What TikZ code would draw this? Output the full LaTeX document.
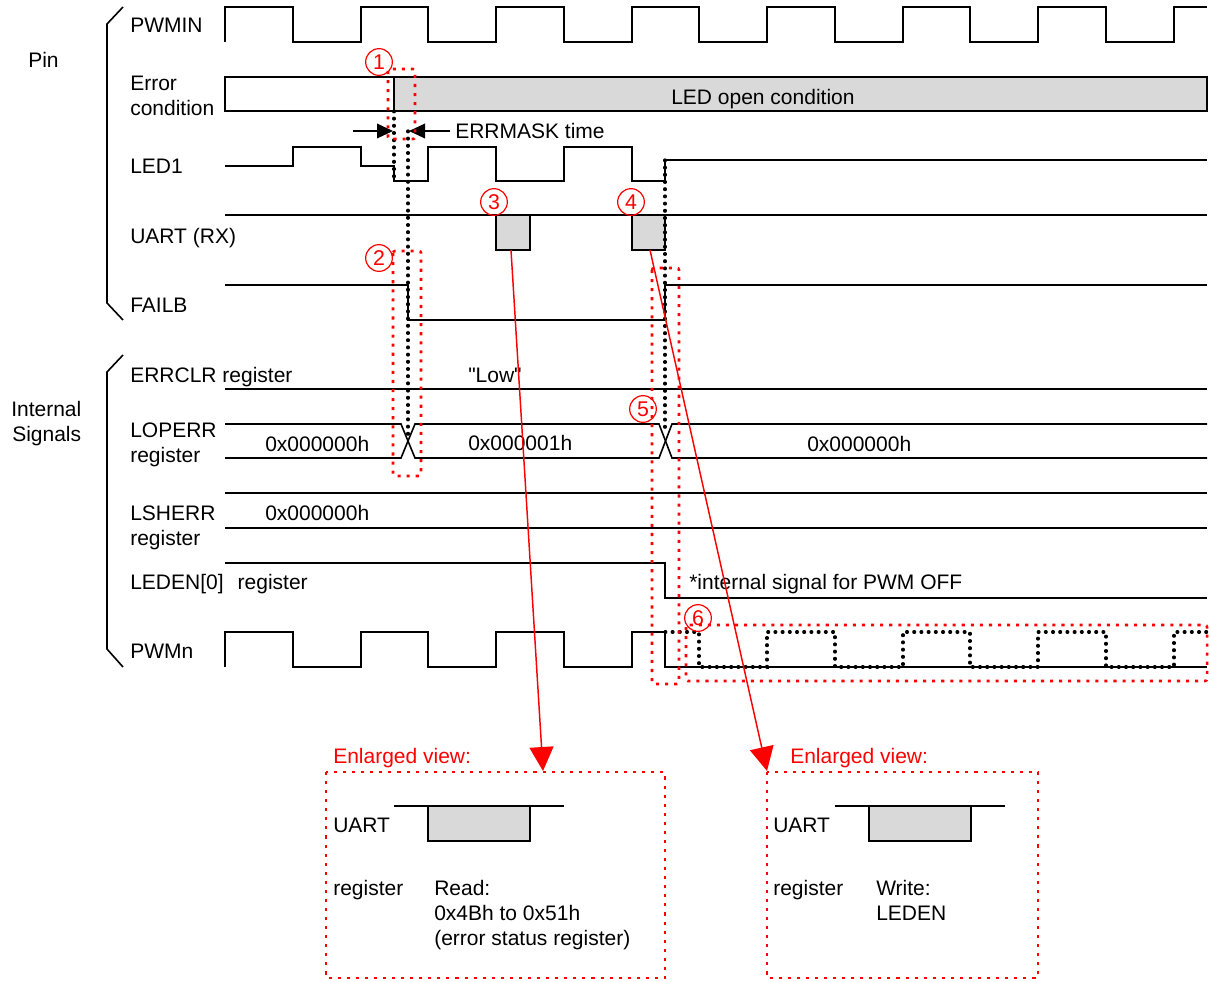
\documentclass[tikz,border=0pt]{standalone}
\usepackage{fontspec}
\setmainfont{Liberation Sans}[Ligatures=TeXOff]
\usetikzlibrary{arrows.meta}
\definecolor{gfill}{RGB}{217,217,217}
\definecolor{rred}{RGB}{255,0,0}
\begin{document}
\begin{tikzpicture}[x=0.75pt,y=-0.75pt,
  wave/.style={line width=1.2pt,line join=miter},
  bdot/.style={draw=black,line width=2.4pt,line cap=round,dash pattern=on 0.6pt off 4.8pt},
  rdot/.style={draw=rred,line width=1.9pt,dash pattern=on 2.3pt off 4.5pt,rounded corners=1.5pt},
  lbl/.style={anchor=base west,inner sep=0pt,font=\fontsize{15.75}{18.9}\selectfont},
  rlbl/.style={lbl,text=rred},
  num/.style={circle,draw=rred,line width=0.9pt,text=rred,minimum size=20pt,inner sep=0pt,font=\fontsize{16}{19}\selectfont},
  rarrow/.style={draw=rred,line width=1.1pt,-{Triangle[length=18pt,width=18pt,fill=rred]}},
  karrow/.style={draw=black,line width=1pt,-{Triangle[length=12pt,width=11pt]}}
]
\useasboundingbox (0,0) rectangle (1209,981);

% brackets
\draw[wave] (123,7)--(107,24)--(107,303)--(123,320);
\draw[wave] (123,355)--(107,372)--(107,649)--(123,667);

% labels
\node[lbl] (pin) at (28,68) {Pin};
\node[lbl] (int1) at (11,416) {Internal};
\node[lbl] (int2) at (12,441) {Signals};
\node[lbl] (lpwmin) at (130,33) {PWMIN};
\node[lbl] (lerr1) at (130,90) {Error};
\node[lbl] (lerr2) at (130,115) {condition};
\node[lbl] (lled) at (130,173) {LED1};
\node[lbl] (luart) at (130,243) {UART (RX)};
\node[lbl] (lfail) at (130,312) {FAILB};
\node[lbl] (lerrclr) at (130,382) {ERRCLR register};
\node[lbl] (llop1) at (130,437) {LOPERR};
\node[lbl] (llop2) at (130,462) {register};
\node[lbl] (llsh1) at (130,520) {LSHERR};
\node[lbl] (llsh2) at (130,545) {register};
\node[lbl] (lleden) at (130,589) {LEDEN[0]\hspace{0.67em}register};
\node[lbl] (lpwmn) at (130,658) {PWMn};

% PWMIN
\draw[wave] (225,42)--(225,7)--(293,7)--(293,42)--(361,42)--(361,7)--(428,7)--(428,42)--(496,42)--(496,7)--(564,7)--(564,42)--(632,42)--(632,7)--(699,7)--(699,42)--(767,42)--(767,7)--(835,7)--(835,42)--(903,42)--(903,7)--(970,7)--(970,42)--(1038,42)--(1038,7)--(1106,7)--(1106,42)--(1174,42)--(1174,7)--(1207,7);

% Error condition
\filldraw[wave,fill=gfill] (394,77) rectangle (1207,111);
\draw[wave] (394,77)--(225,77)--(225,111)--(394,111);
\node[lbl] (ledopen) at (671,104) {LED open condition};

% ERRMASK
\coordinate (ma1) at (353,131);
\coordinate (ma2) at (393,131);
\coordinate (mb1) at (450,131);
\coordinate (mb2) at (409,131);
\draw[karrow] (ma1)--(ma2);
\draw[karrow] (mb1)--(mb2);
\node[lbl] (errmask) at (455,138) {ERRMASK time};

% LED1
\draw[wave] (225,166)--(293,166)--(293,147)--(361,147)--(361,166)--(394,166)--(394,181)--(428,181)--(428,147)--(496,147)--(496,181)--(564,181)--(564,147)--(632,147)--(632,181)--(665,181)--(665,160)--(1207,160);

% UART
\draw[wave] (225,215)--(1207,215);
\filldraw[wave,fill=gfill] (496,215) rectangle (530,250);
\filldraw[wave,fill=gfill] (632,215) rectangle (665,250);

% FAILB
\draw[wave] (225,285)--(408,285)--(408,320)--(665,320)--(665,285)--(1207,285);

% ERRCLR
\draw[wave] (225,389)--(1207,389);
\node[lbl] (low) at (468,382) {"Low"};

% LOPERR
\draw[wave] (225,424)--(401,424)--(415,458)--(659,458)--(672,424)--(1207,424);
\draw[wave] (225,458)--(401,458)--(415,424)--(659,424)--(672,458)--(1207,458);
\node[lbl] (lopv1) at (265,451) {0x000000h};
\node[lbl] (lopv2) at (468,450) {0x000001h};
\node[lbl] (lopv3) at (807,451) {0x000000h};

% LSHERR
\draw[wave] (225,493)--(1207,493);
\draw[wave] (225,528)--(1207,528);
\node[lbl] (lshv) at (265,520) {0x000000h};

% LEDEN
\draw[wave] (225,563)--(665,563)--(665,598)--(1207,598);
\node[lbl] (pwmoff) at (689,589) {*internal signal for PWM OFF};

% PWMn
\draw[wave] (225,667)--(225,632)--(293,632)--(293,667)--(361,667)--(361,632)--(428,632)--(428,667)--(496,667)--(496,632)--(564,632)--(564,667)--(632,667)--(632,632)--(665,632)--(665,667)--(1207,667);
\draw[bdot] (665,632)--(699,632)--(699,667)--(767,667)--(767,632)--(835,632)--(835,667)--(903,667)--(903,632)--(970,632)--(970,667)--(1038,667)--(1038,632)--(1106,632)--(1106,667)--(1174,667)--(1174,632)--(1207,632);

% black dotted guides
\draw[bdot] (394,111)--(394,181);
\draw[bdot] (408,131)--(408,437);
\draw[bdot] (665,160)--(665,430);

% red dotted boxes
\draw[rdot] (388,69) rectangle (415,139);
\draw[rdot] (393,251) rectangle (421,476);
\draw[rdot] (652,268) rectangle (679,684);
\draw[rdot] (686,625) rectangle (1207,681);

% circled numbers
\node[num] (n1) at (379,62) {1};
\node[num] (n2) at (379,258) {2};
\node[num] (n3) at (494,202) {3};
\node[num] (n4) at (631,202) {4};
\node[num] (n5) at (643,409) {5};
\node[num] (n6) at (698,618) {6};

% enlarged views
\draw[rdot,rounded corners=0pt] (326,772) rectangle (665,978);
\draw[rdot,rounded corners=0pt] (767,772) rectangle (1038,978);
\node[rlbl] (enA) at (333,763) {Enlarged view:};
\node[rlbl] (enB) at (790,763) {Enlarged view:};

\draw[wave] (394,806)--(564,806);
\filldraw[wave,fill=gfill] (428,806) rectangle (530,841);
\node[lbl] (auart) at (333,832) {UART};
\node[lbl] (areg) at (333,895) {register};
\node[lbl] (aread1) at (434,895) {Read:};
\node[lbl] (aread2) at (434,920) {0x4Bh to 0x51h};
\node[lbl] (aread3) at (434,945) {(error status register)};

\draw[wave] (835,806)--(1005,806);
\filldraw[wave,fill=gfill] (869,806) rectangle (971,841);
\node[lbl] (buart) at (773,832) {UART};
\node[lbl] (breg) at (773,895) {register};
\node[lbl] (bw1) at (876,895) {Write:};
\node[lbl] (bw2) at (876,920) {LEDEN};

% red arrows
\coordinate (u3) at (511,250);
\coordinate (u4) at (650,250);
\coordinate (tA) at (543,771);
\coordinate (tB) at (767,771);
\draw[rarrow] (u3)--(tA);
\draw[rarrow] (u4)--(tB);
\end{tikzpicture}
\end{document}
